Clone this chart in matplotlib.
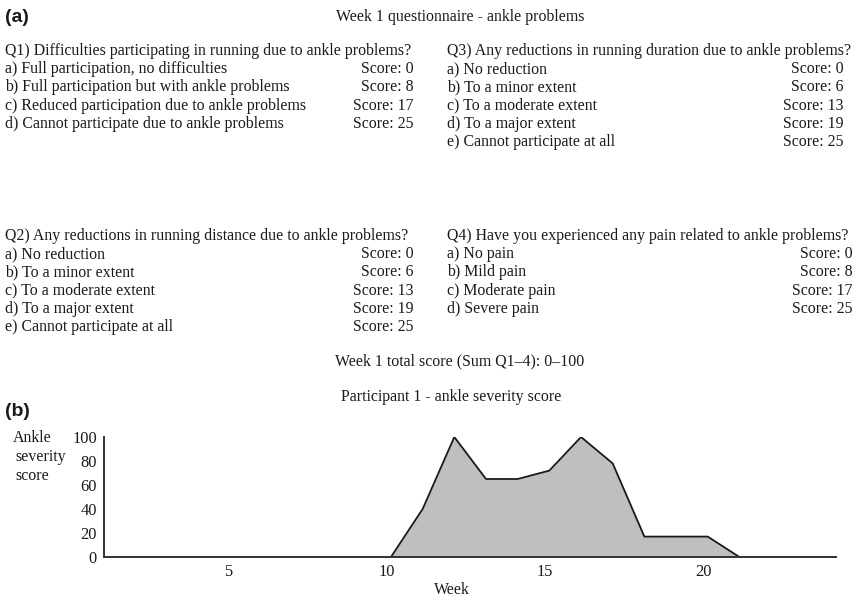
import matplotlib
matplotlib.use("Agg")
import matplotlib.pyplot as plt
from matplotlib.transforms import ScaledTranslation

# questionnaire content
q1_title = "Q1) Difficulties participating in running due to ankle problems?"
q1_options = ["a) Full participation, no difficulties",
              "b) Full participation but with ankle problems",
              "c) Reduced participation due to ankle problems",
              "d) Cannot participate due to ankle problems"]
q1_scores = [0, 8, 17, 25]

q2_title = "Q2) Any reductions in running distance due to ankle problems?"
q2_options = ["a) No reduction", "b) To a minor extent", "c) To a moderate extent",
              "d) To a major extent", "e) Cannot participate at all"]
q2_scores = [0, 6, 13, 19, 25]

q3_title = "Q3) Any reductions in running duration due to ankle problems?"
q3_options = ["a) No reduction", "b) To a minor extent", "c) To a moderate extent",
              "d) To a major extent", "e) Cannot participate at all"]
q3_scores = [0, 6, 13, 19, 25]

q4_title = "Q4) Have you experienced any pain related to ankle problems?"
q4_options = ["a) No pain", "b) Mild pain", "c) Moderate pain", "d) Severe pain"]
q4_scores = [0, 8, 17, 25]

# participant 1 weekly severity score
weeks = list(range(1, 25))
severity = [0, 0, 0, 0, 0, 0, 0, 0, 0, 0, 40, 100, 65, 65, 72, 100, 78, 17, 17, 17, 0, 0, 0, 0]

W, H = 853, 604
serif = "Liberation Serif"
sans = "Liberation Sans"
fs = 11.4

fig = plt.figure(figsize=(W / 100, H / 100), dpi=100)


def px(x, y):
    return x / W, 1 - y / H


def txt(x, y, s, ha="left", **kw):
    kw.setdefault("family", serif)
    kw.setdefault("fontsize", fs)
    fig.text(*px(x, y), s, ha=ha, va="center", color="#1a1a1a", **kw)


def block(x_left, x_right, y_top, title, options, scores, step=18.2):
    txt(x_left, y_top, title)
    for i, (opt, sc) in enumerate(zip(options, scores)):
        y = y_top + step * (i + 1)
        txt(x_left, y, opt)
        txt(x_right, y, f"Score: {sc}", ha="right")


# panel (a)
txt(5, 18, "(a)", family=sans, fontsize=14, fontweight="bold")
txt(460, 17, "Week 1 questionnaire - ankle problems", ha="center")
block(5, 414, 51, q1_title, q1_options, q1_scores)
block(447, 844, 51, q3_title, q3_options, q3_scores)
block(5, 414, 236, q2_title, q2_options, q2_scores)
block(447, 853, 236, q4_title, q4_options, q4_scores)
txt(460, 361, "Week 1 total score (Sum Q1\u20134): 0\u2013100", ha="center")

# panel (b)
txt(451, 397, "Participant 1 - ankle severity score", ha="center")
txt(5, 412, "(b)", family=sans, fontsize=14, fontweight="bold")
txt(13, 438, "Ankle")
txt(15, 457, "severity")
txt(15, 476, "score")

l, r, t, b = 104, 836, 437, 557
ax = fig.add_axes([l / W, 1 - b / H, (r - l) / W, (b - t) / H])
ax.fill_between(weeks, severity, 0, color="#bfbfbf", lw=0)
ax.plot(weeks, severity, color="#1a1a1a", lw=1.3)
ax.set_xlim(0.94, 24.05)
ax.set_ylim(0, 100)
ax.set_yticks([0, 20, 40, 60, 80, 100])
ax.set_xticks([5, 10, 15, 20])
ax.tick_params(length=0, pad=5, labelsize=11.8, labelcolor="#1a1a1a")
for lab in ax.get_xticklabels() + ax.get_yticklabels():
    lab.set_family(serif)
for lab in ax.get_xticklabels():
    lab.set_transform(lab.get_transform() + ScaledTranslation(-0.045, 0, fig.dpi_scale_trans))
for side in ["top", "right"]:
    ax.spines[side].set_visible(False)
for side in ["left", "bottom"]:
    ax.spines[side].set_color("#333333")
    ax.spines[side].set_linewidth(1.4)
ax.patch.set_alpha(0)
txt(452, 590, "Week", ha="center")

fig.savefig("out.png", dpi=100)
